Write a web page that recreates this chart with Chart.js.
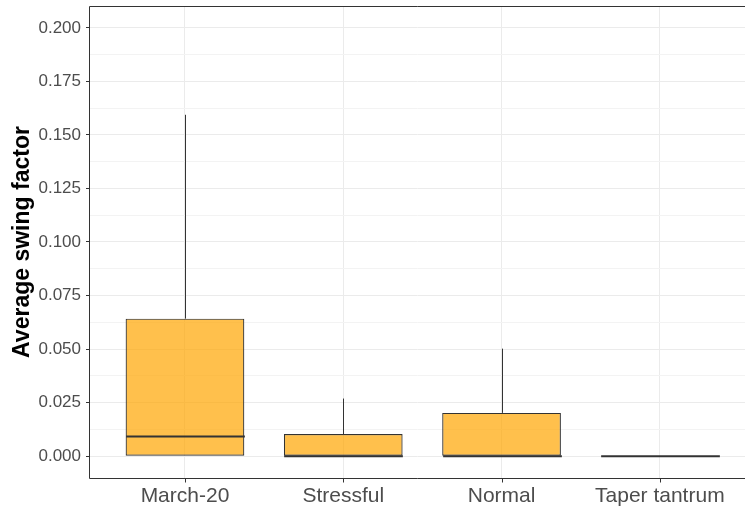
<!DOCTYPE html>
<html>
<head>
<meta charset="utf-8">
<script src="https://cdn.jsdelivr.net/npm/chart.js@4.4.1/dist/chart.umd.min.js"></script>
<style>
  html, body { margin: 0; padding: 0; background: #fff; overflow: hidden; }
  #wrap { width: 745px; height: 508px; overflow: hidden; }
  #swing { display: block; }
</style>
</head>
<body>
<div id="wrap"><canvas id="swing" width="745" height="508"></canvas></div>
<script>
// box plot summary per period
const periods = ["March-20", "Stressful", "Normal", "Taper tantrum"];
const lowerWhisker = [0, 0, 0, 0];
const q1 = [0, 0, 0, 0];
const median = [0.0092, 0, 0, 0];
const q3 = [0.0642, 0.0103, 0.0202, 0];
const upperWhisker = [0.1594, 0.0269, 0.0502, 0];

// major + minor breaks, only the major ones get a label
const yTicks = [0, 0.0125, 0.025, 0.0375, 0.05, 0.0625, 0.075, 0.0875, 0.1,
                0.1125, 0.125, 0.1375, 0.15, 0.1625, 0.175, 0.1875, 0.2];
const yTickLabels = ["0.000", "0.025", "0.050", "0.075", "0.100",
                     "0.125", "0.150", "0.175", "0.200"];

const lineCol = "#333333";
// the panel runs a little past the right edge of the canvas
const xMin = -0.6, xMax = 3.538;

// whiskers, medians, x tick marks and the panel frame
const boxExtras = {
    id: "boxExtras",
    afterDatasetsDraw(chart) {
        const ctx = chart.ctx;
        const x = chart.scales.x, y = chart.scales.y;
        const meta = chart.getDatasetMeta(0);
        ctx.save();
        ctx.strokeStyle = lineCol;
        periods.forEach((p, i) => {
            const cx = Math.round(x.getPixelForValue(i)) + 0.5;
            const half = meta.data[i].width / 2;
            ctx.lineWidth = 1;
            ctx.beginPath();
            ctx.moveTo(cx, y.getPixelForValue(q3[i]));
            ctx.lineTo(cx, y.getPixelForValue(upperWhisker[i]));
            ctx.moveTo(cx, y.getPixelForValue(q1[i]));
            ctx.lineTo(cx, y.getPixelForValue(lowerWhisker[i]));
            ctx.stroke();
            ctx.lineWidth = 2;
            const ym = y.getPixelForValue(median[i]);
            ctx.beginPath();
            ctx.moveTo(cx - half, ym);
            ctx.lineTo(cx + half, ym);
            ctx.stroke();
        });
        ctx.restore();
    },
    afterDraw(chart) {
        const a = chart.chartArea;
        const x = chart.scales.x;
        const ctx = chart.ctx;
        const l = Math.round(a.left) - 0.5, t = Math.round(a.top) + 0.5, b = Math.round(a.bottom) + 0.5;
        ctx.save();
        ctx.strokeStyle = lineCol;
        ctx.lineWidth = 1;
        ctx.beginPath();
        ctx.moveTo(a.right, t);
        ctx.lineTo(l, t);
        ctx.lineTo(l, b);
        ctx.lineTo(a.right, b);
        periods.forEach((p, i) => {
            const cx = Math.round(x.getPixelForValue(i)) + 0.5;
            ctx.moveTo(cx, b);
            ctx.lineTo(cx, b + 4);
        });
        ctx.stroke();
        ctx.restore();
    }
};

const isMajor = (v) => Math.abs(v / 0.025 - Math.round(v / 0.025)) < 1e-6;

new Chart(document.getElementById("swing"), {
    type: "bar",
    data: {
        datasets: [{
            data: periods.map((p, i) => ({ x: i, y: [q1[i], q3[i]] })),
            backgroundColor: "rgba(255,165,0,0.7)",
            borderColor: lineCol,
            borderWidth: 1.2,
            borderSkipped: false,
            categoryPercentage: 1,
            barPercentage: 0.75
        }]
    },
    options: {
        responsive: false,
        animation: false,
        events: [],
        layout: { padding: { top: 6, right: 0, left: 0, bottom: 0 } },
        plugins: { legend: { display: false }, tooltip: { enabled: false } },
        scales: {
            x: {
                type: "linear",
                min: xMin,
                max: xMax,
                offset: false,
                afterFit(s) {
                    s.height = 30;
                    s.paddingLeft = 0;
                    s.paddingRight = 0;
                },
                afterBuildTicks(s) { s.ticks = periods.map((p, i) => ({ value: i })); },
                border: { display: false },
                grid: {
                    offset: false,
                    color: "#EBEBEB",
                    lineWidth: 1,
                    drawTicks: false
                },
                ticks: {
                    color: "#4D4D4D",
                    padding: 6,
                    maxRotation: 0,
                    autoSkip: false,
                    font: { family: "Liberation Sans", size: 21 },
                    callback: (v) => periods[v]
                }
            },
            y: {
                min: -0.0102,
                max: 0.2102,
                afterFit(s) {
                    s.width = 90;
                    s.paddingTop = 0;
                    s.paddingBottom = 0;
                },
                afterBuildTicks(s) { s.ticks = yTicks.map(v => ({ value: v })); },
                border: { display: false },
                grid: {
                    color: (c) => isMajor(c.tick.value) ? "#EBEBEB" : "#F3F3F3",
                    lineWidth: 1,
                    tickColor: (c) => isMajor(c.tick.value) ? lineCol : "rgba(0,0,0,0)",
                    tickLength: 4
                },
                ticks: {
                    color: "#4D4D4D",
                    padding: 5,
                    font: { family: "Liberation Sans", size: 17 },
                    callback: (v, i) => i % 2 === 0 ? yTickLabels[i / 2] : ""
                },
                title: {
                    display: true,
                    text: "Average swing factor",
                    color: "#000000",
                    font: { family: "Liberation Sans", size: 23, weight: "bold" },
                    padding: { top: 9, bottom: 0 }
                }
            }
        }
    },
    plugins: [boxExtras]
});
</script>
</body>
</html>
